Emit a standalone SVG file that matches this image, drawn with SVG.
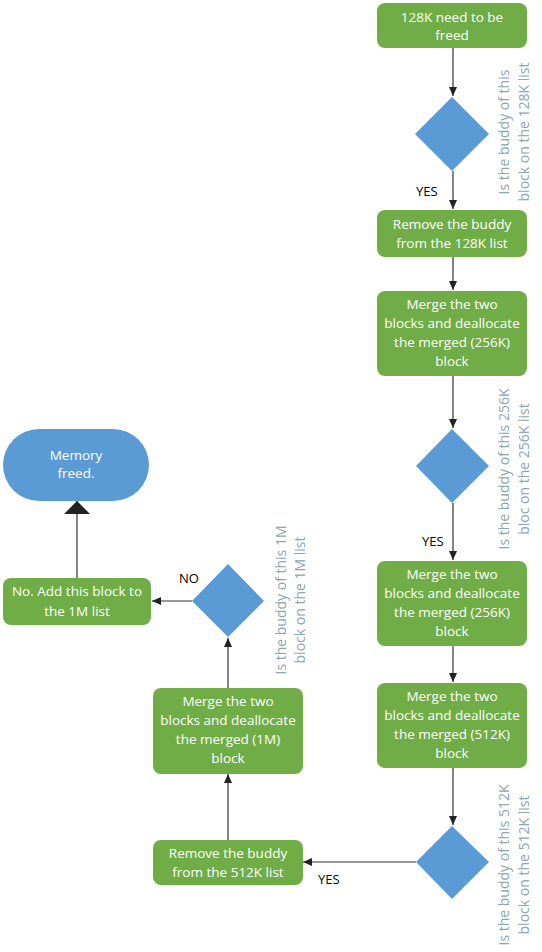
<svg xmlns="http://www.w3.org/2000/svg" width="542" height="952" viewBox="0 0 542 952">
<style>
.box{fill:#70ad47;}
.dia{fill:#5b9bd5;}
.t{font-family:"Open Sans","Liberation Sans",sans-serif;font-size:13.5px;fill:#ffffff;text-anchor:middle;}
.lab{font-family:"Open Sans","Liberation Sans",sans-serif;font-size:13px;fill:#000000;}
.side{font-family:"Open Sans","Liberation Sans",sans-serif;font-size:14px;fill:#8aa6b0;text-anchor:middle;}
.c{stroke:#333333;stroke-width:1.2;fill:none;}
</style>
<defs>
<marker id="ah" markerWidth="10" markerHeight="8" refX="9" refY="4" orient="auto" markerUnits="userSpaceOnUse">
<path d="M0,0 L9,4 L0,8 Z" fill="#222222"/>
</marker>
<marker id="big" markerWidth="14" markerHeight="26" refX="13" refY="13" orient="auto" markerUnits="userSpaceOnUse">
<path d="M0,0 L13,13 L0,26 Z" fill="#222222"/>
</marker>
</defs>
<g id="connectors">
<line class="c" x1="453" y1="48" x2="453" y2="96" marker-end="url(#ah)"/>
<line class="c" x1="453" y1="171" x2="453" y2="209" marker-end="url(#ah)"/>
<line class="c" x1="453" y1="257" x2="453" y2="290" marker-end="url(#ah)"/>
<line class="c" x1="453" y1="376" x2="453" y2="428" marker-end="url(#ah)"/>
<line class="c" x1="453" y1="503" x2="453" y2="560" marker-end="url(#ah)"/>
<line class="c" x1="453" y1="646" x2="453" y2="682" marker-end="url(#ah)"/>
<line class="c" x1="453" y1="768" x2="453" y2="825" marker-end="url(#ah)"/>
<line class="c" x1="416" y1="862" x2="303" y2="862" marker-end="url(#ah)"/>
<line class="c" x1="228" y1="840" x2="228" y2="774" marker-end="url(#ah)"/>
<line class="c" x1="228" y1="688" x2="228" y2="638" marker-end="url(#ah)"/>
<line class="c" x1="192" y1="601" x2="152" y2="601" marker-end="url(#ah)"/>
<line class="c" x1="77" y1="578" x2="77" y2="501" marker-end="url(#big)"/>
<text class="lab" x="416" y="196">YES</text>
<text class="lab" x="422" y="546">YES</text>
<text class="lab" x="318" y="884">YES</text>
<text class="lab" x="179" y="583">NO</text>
</g>
<g id="n1"><rect class="box" x="377" y="3" width="150" height="45" rx="8"/>
<text class="t" x="452" y="22">128K need to be</text><text class="t" x="452" y="40">freed</text></g>
<g id="d1"><polygon class="dia" points="452,97 489,134 452,171 415,134"/>
<text class="side" transform="translate(509,132) rotate(-90)">Is the buddy of this</text>
<text class="side" transform="translate(529,132) rotate(-90)">block on the 128K list</text></g>
<g id="n2"><rect class="box" x="377" y="210" width="150" height="47" rx="8"/>
<text class="t" x="452" y="229">Remove the buddy</text><text class="t" x="452" y="248">from the 128K list</text></g>
<g id="n3"><rect class="box" x="377" y="291" width="150" height="85" rx="8"/>
<text class="t" x="452" y="309">Merge the two</text><text class="t" x="452" y="328">blocks and deallocate</text><text class="t" x="452" y="347">the merged (256K)</text><text class="t" x="452" y="366">block</text></g>
<g id="d2"><polygon class="dia" points="452,429 489,466 452,503 416,466"/>
<text class="side" transform="translate(509,469) rotate(-90)">Is the buddy of this 256K</text>
<text class="side" transform="translate(529,469) rotate(-90)">bloc on the 256K list</text></g>
<g id="n4"><rect class="box" x="377" y="561" width="150" height="85" rx="8"/>
<text class="t" x="452" y="579">Merge the two</text><text class="t" x="452" y="598">blocks and deallocate</text><text class="t" x="452" y="617">the merged (256K)</text><text class="t" x="452" y="636">block</text></g>
<g id="n5"><rect class="box" x="377" y="683" width="150" height="85" rx="8"/>
<text class="t" x="452" y="701">Merge the two</text><text class="t" x="452" y="720">blocks and deallocate</text><text class="t" x="452" y="739">the merged (512K)</text><text class="t" x="452" y="758">block</text></g>
<g id="d3"><polygon class="dia" points="452,826 489,862 452,899 416,862"/>
<text class="side" transform="translate(509,865) rotate(-90)">Is the buddy of this 512K</text>
<text class="side" transform="translate(529,865) rotate(-90)">block on the 512K list</text></g>
<g id="n6"><rect class="box" x="153" y="840" width="150" height="45" rx="8"/>
<text class="t" x="228" y="858">Remove the buddy</text><text class="t" x="228" y="877">from the 512K list</text></g>
<g id="n7"><rect class="box" x="153" y="688" width="150" height="86" rx="8"/>
<text class="t" x="228" y="706">Merge the two</text><text class="t" x="228" y="725">blocks and deallocate</text><text class="t" x="228" y="744">the merged (1M)</text><text class="t" x="228" y="763">block</text></g>
<g id="d4"><polygon class="dia" points="228,564 264,601 228,637 192,601"/>
<text class="side" transform="translate(286,600) rotate(-90)">Is the buddy of this 1M</text>
<text class="side" transform="translate(305,600) rotate(-90)">block on the 1M list</text></g>
<g id="n8"><rect class="box" x="3" y="578" width="148" height="47" rx="8"/>
<text class="t" x="77" y="596">No. Add this block to</text><text class="t" x="77" y="616">the 1M list</text></g>
<g id="n9"><rect class="dia" x="3" y="429" width="146" height="72" rx="36"/>
<text class="t" x="76" y="460">Memory</text><text class="t" x="76" y="478">freed.</text></g>
</svg>
